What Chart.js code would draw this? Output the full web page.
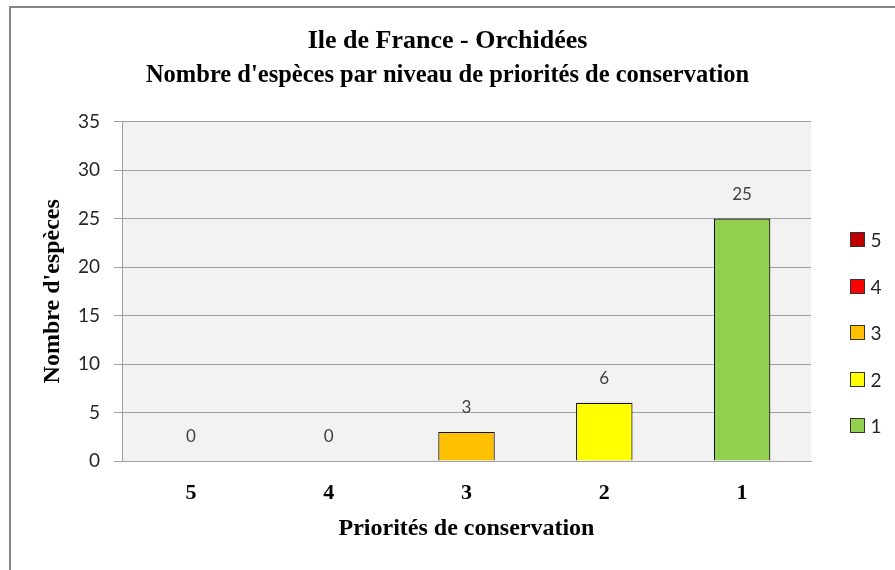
<!DOCTYPE html>
<html><head><meta charset="utf-8">
<script src="https://cdn.jsdelivr.net/npm/chart.js@4/dist/chart.umd.min.js"></script>
<style>
html,body{margin:0;padding:0;background:#fff;}
#wrap{position:relative;width:895px;height:570px;overflow:hidden;}
#frame{position:absolute;left:9px;top:6px;right:-4px;bottom:-4px;border-left:2px solid #868686;border-top:2px solid #868686;pointer-events:none;}
canvas{position:absolute;left:0;top:0;}
</style></head><body>
<div id="wrap"><canvas id="c" width="895" height="570"></canvas><div id="frame"></div></div>
<script>
const categories = ['5', '4', '3', '2', '1'];
const seriesNames = ['5', '4', '3', '2', '1'];
const values = [0, 0, 3, 6, 25];
const colors = ['#C00000', '#FF0000', '#FFC000', '#FFFF00', '#92D050'];
const yTicks = [0, 5, 10, 15, 20, 25, 30, 35];
const titleText = 'Ile de France - Orchidées';
const subtitleText = "Nombre d'espèces par niveau de priorités de conservation";
const yTitle = "Nombre d'espèces";
const xTitle = 'Priorités de conservation';

const SERIF = '"Liberation Serif", "Times New Roman", serif';
const SANS = 'Lato, "Open Sans", sans-serif';

const datasets = seriesNames.map((name, i) => ({
  label: name,
  data: categories.map((c, j) => (j === i ? values[i] : null)),
  backgroundColor: colors[i],
  borderColor: '#111111',
  borderWidth: 1.2,
  barPercentage: 0.41,
  categoryPercentage: 1.0
}));

const plotBg = {
  id: 'plotBg',
  beforeDraw(chart) {
    const {ctx, chartArea: a} = chart;
    ctx.save();
    ctx.fillStyle = '#f2f2f2';
    ctx.fillRect(a.left, a.top, a.right - a.left, a.bottom - a.top);
    ctx.restore();
  }
};

const valueLabels = {
  id: 'valueLabels',
  afterDatasetsDraw(chart) {
    const ctx = chart.ctx;
    ctx.save();
    ctx.font = '17px ' + SANS;
    ctx.fillStyle = '#404040';
    ctx.textAlign = 'center';
    ctx.textBaseline = 'middle';
    chart.data.datasets.forEach((ds, i) => {
      const meta = chart.getDatasetMeta(i);
      meta.data.forEach((el, j) => {
        const v = ds.data[j];
        if (v === null || v === undefined) return;
        ctx.fillText(String(v), el.x, el.y - 24);
      });
    });
    ctx.restore();
  }
};

const sideLegend = {
  id: 'sideLegend',
  afterDraw(chart) {
    const ctx = chart.ctx;
    const a = chart.chartArea;
    const n = chart.data.datasets.length;
    const step = 46.5;
    const cy0 = (a.top + a.bottom) / 2 + 42 - (n - 1) * step / 2;
    ctx.save();
    ctx.font = '19px ' + SANS;
    ctx.textBaseline = 'middle';
    ctx.textAlign = 'left';
    chart.data.datasets.forEach((ds, i) => {
      const cy = Math.round(cy0 + i * step);
      const x = Math.round(a.right + 39) + 0.5;
      ctx.fillStyle = ds.backgroundColor;
      ctx.fillRect(x, cy - 7.5, 14, 14);
      ctx.strokeStyle = '#333333';
      ctx.lineWidth = 1;
      ctx.strokeRect(x, cy - 7.5, 14, 14);
      ctx.fillStyle = '#262626';
      ctx.fillText(ds.label, x + 20, cy + 1);
    });
    ctx.restore();
  }
};

new Chart(document.getElementById('c'), {
  type: 'bar',
  data: { labels: categories, datasets: datasets },
  plugins: [plotBg, valueLabels, sideLegend],
  options: {
    responsive: false,
    animation: false,
    devicePixelRatio: 1,
    layout: { padding: { left: 0, right: 0, top: 0, bottom: 0 } },
    plugins: {
      legend: { display: false },
      tooltip: { enabled: false },
      title: {
        display: true,
        text: titleText,
        color: '#000000',
        font: { family: SERIF, size: 26, weight: 'bold' },
        padding: { top: 26, bottom: 2 }
      },
      subtitle: {
        display: true,
        text: subtitleText,
        color: '#000000',
        font: { family: SERIF, size: 24.5, weight: 'bold' },
        padding: { top: 2, bottom: 31 }
      }
    },
    scales: {
      x: {
        stacked: true,
        grid: { display: false },
        border: { display: true, color: '#a0a0a0', width: 1 },
        ticks: { color: '#000000', font: { family: SERIF, size: 22, weight: 'bold' }, padding: 11 },
        title: {
          display: true, text: xTitle, color: '#000000',
          font: { family: SERIF, size: 24, weight: 'bold' },
          padding: { top: 0, bottom: 27 }
        },
        afterFit(scale) { scale.height = 109; }
      },
      y: {
        stacked: true,
        min: 0,
        max: 35,
        afterBuildTicks(scale) { scale.ticks = yTicks.map(v => ({ value: v })); },
        grid: { color: '#a0a0a0', lineWidth: 1, drawTicks: true, tickLength: 8 },
        border: { display: true, color: '#a0a0a0', width: 1 },
        ticks: { color: '#262626', font: { family: SANS, size: 19 }, padding: 14 },
        title: {
          display: true, text: yTitle, color: '#000000',
          font: { family: SERIF, size: 24, weight: 'bold' },
          padding: { top: 38, bottom: 0 }
        },
        afterFit(scale) { scale.width = 122; }
      },
      ySpace: {
        position: 'right',
        display: true,
        grid: { display: false, drawTicks: false },
        border: { display: false },
        ticks: { display: false },
        afterFit(scale) { scale.width = 84; }
      }
    }
  }
});
</script>
</body></html>
